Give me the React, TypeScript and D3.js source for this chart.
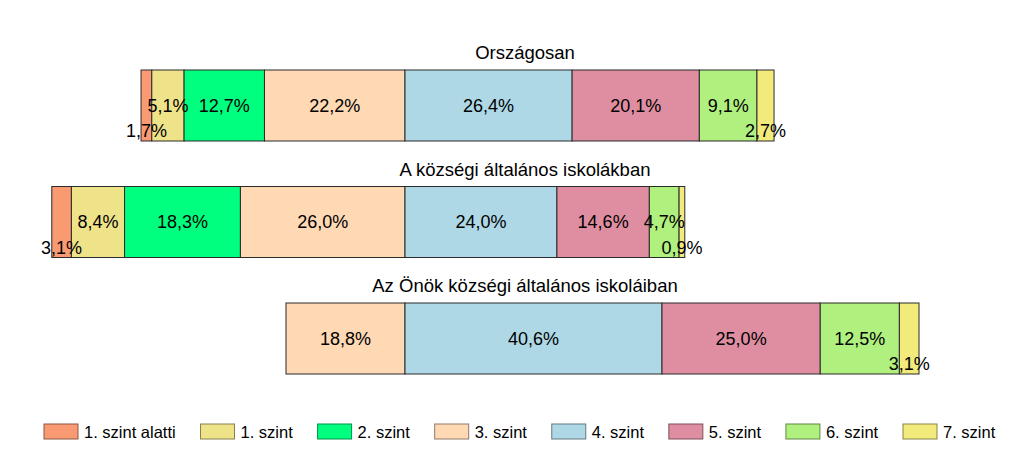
import React from "react";
import * as d3 from "d3";

const categories = ["Országosan", "A községi általános iskolákban", "Az Önök községi általános iskoláiban"];
const levels = ["1. szint alatti", "1. szint", "2. szint", "3. szint", "4. szint", "5. szint", "6. szint", "7. szint"];
const colors = ["#F99A72", "#EFE38A", "#00FF7F", "#FFD8B4", "#AED8E6", "#DE8EA0", "#B0F07E", "#F3EA7C"];
const valuesOrszagosan = [1.7, 5.1, 12.7, 22.2, 26.4, 20.1, 9.1, 2.7];
const valuesKozsegi = [3.1, 8.4, 18.3, 26.0, 24.0, 14.6, 4.7, 0.9];
const valuesOnok = [0, 0, 0, 18.8, 40.6, 25.0, 12.5, 3.1];
const seriesValues = [valuesOrszagosan, valuesKozsegi, valuesOnok];
const pivotIndex = 4; // bars are aligned at the start of "4. szint"

const W = 1023;
const H = 457;
const font = "'Liberation Sans', Arial, sans-serif";

function measure(text: string, size: number): number {
  const c = document.createElement("canvas").getContext("2d");
  if (!c) return text.length * size * 0.5;
  c.font = `${size}px 'Liberation Sans', Arial, sans-serif`;
  return c.measureText(text).width;
}

export default function App() {
  const x = d3.scaleLinear().domain([-100, 100]).range([405 - 633, 405 + 633]);
  const bh = 71;
  const fmt = (v: number) => v.toFixed(1).replace(".", ",") + "%";

  const bars = categories.map((cat, ci) => {
    const vals = seriesValues[ci];
    const startOffset = -d3.sum(vals.slice(0, pivotIndex));
    let acc = startOffset;
    const y0 = 70 + ci * 116.5;
    const segs = vals.map((v, i) => {
      const s = acc;
      acc += v;
      return { v, s, e: acc, i };
    });
    return (
      <g key={cat}>
        <text x={525} y={y0 - 11} textAnchor="middle" fontFamily={font} fontSize={18.5} fill="#000">
          {cat}
        </text>
        {segs.filter(d => d.v > 0).map(d => (
          <rect key={d.i} x={x(d.s)} y={y0} width={x(d.e) - x(d.s)} height={bh}
            fill={colors[d.i]} stroke="#2a2a2a" strokeWidth={1} />
        ))}
        {segs.filter(d => d.v > 0).map(d => {
          const small = d.v < 4;
          const cx = (x(d.s) + x(d.e)) / 2;
          const cy = small ? y0 + bh - 10 : y0 + bh / 2;
          return (
            <text key={"l" + d.i} x={cx} y={cy} dy="0.35em" textAnchor="middle"
              fontFamily={font} fontSize={18} fill="#000">
              {fmt(d.v)}
            </text>
          );
        })}
      </g>
    );
  });

  const legFont = 16.5;
  const widths = levels.map(l => measure(l, legFont));
  const firstX = 44, lastX = 903;
  const used = d3.sum(widths.slice(0, levels.length - 1).map(w => 40 + w));
  const gap = (lastX - firstX - used) / (levels.length - 1);
  const legendXs: number[] = [];
  let cur = firstX;
  widths.forEach(w => { legendXs.push(cur); cur += 40 + w + gap; });

  return (
    <svg width={W} height={H} style={{ position: "absolute", left: 0, top: 0, background: "#fff" }}>
      <rect x={0} y={0} width={W} height={H} fill="#fff" />
      {bars}
      {levels.map((l, i) => {
        const lx = legendXs[i];
        return (
          <g key={l}>
            <rect x={lx} y={424} width={34} height={15} fill={colors[i]}
              stroke={d3.color(colors[i])!.darker(1.6).toString()} strokeWidth={1} />
            <text x={lx + 40} y={432} dy="0.35em" fontFamily={font} fontSize={legFont} fill="#000">{l}</text>
          </g>
        );
      })}
    </svg>
  );
}
